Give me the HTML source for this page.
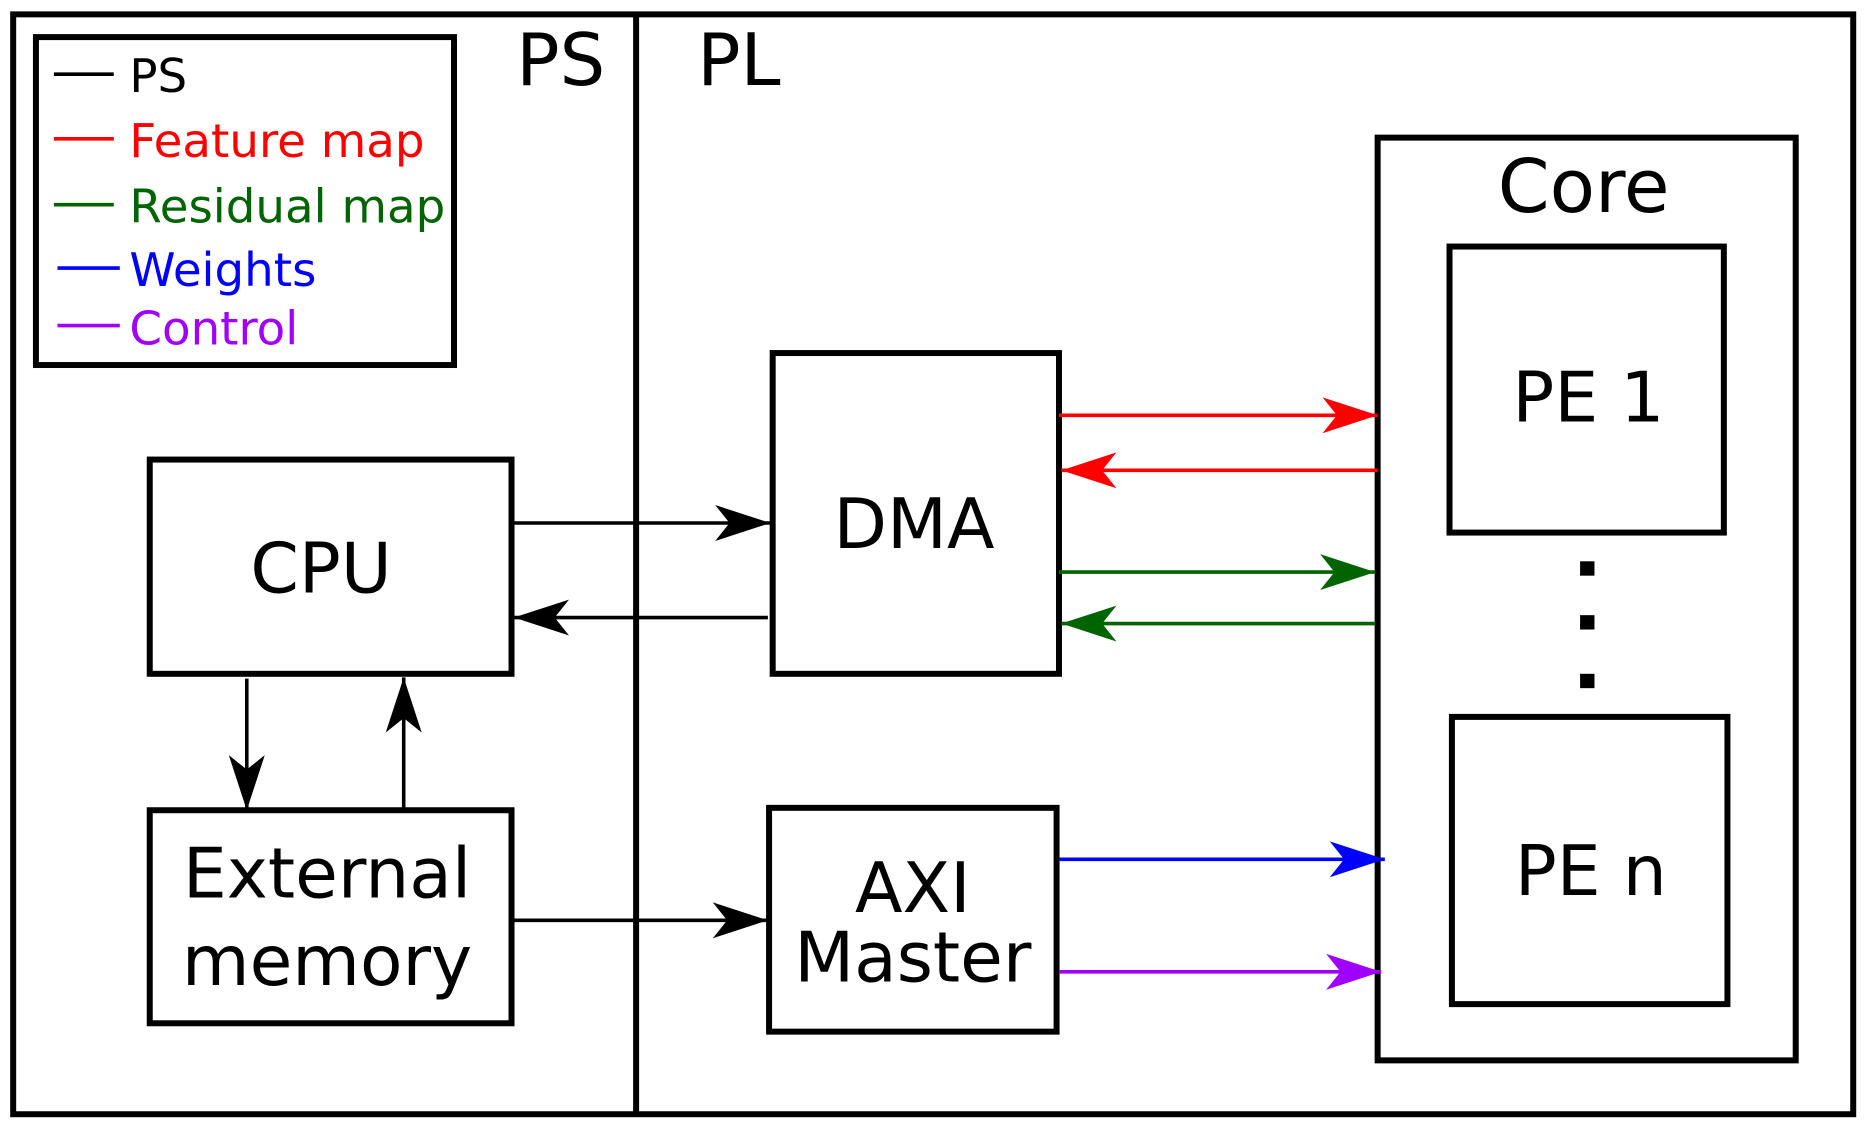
<!DOCTYPE html>
<html><head><meta charset="utf-8"><style>
html,body{margin:0;padding:0;background:#fff;}
svg{display:block;}
text{font-family:"DejaVu Sans","Liberation Sans",sans-serif;}
</style></head><body>
<svg width="1864" height="1125" viewBox="0 0 1556 940" preserveAspectRatio="none" xmlns="http://www.w3.org/2000/svg">
<defs>
<marker id="mk" markerUnits="userSpaceOnUse" markerWidth="60" markerHeight="40" refX="0" refY="0" viewBox="-50 -20 60 40" orient="auto"><path d="M0,0 L-46,-15 L-34,0 L-46,15 z" fill="#000"/></marker>
<marker id="mr" markerUnits="userSpaceOnUse" markerWidth="60" markerHeight="40" refX="0" refY="0" viewBox="-50 -20 60 40" orient="auto"><path d="M0,0 L-46,-15 L-34,0 L-46,15 z" fill="#f00"/></marker>
<marker id="mg" markerUnits="userSpaceOnUse" markerWidth="60" markerHeight="40" refX="0" refY="0" viewBox="-50 -20 60 40" orient="auto"><path d="M0,0 L-46,-15 L-34,0 L-46,15 z" fill="#006400"/></marker>
<marker id="mb" markerUnits="userSpaceOnUse" markerWidth="60" markerHeight="40" refX="0" refY="0" viewBox="-50 -20 60 40" orient="auto"><path d="M0,0 L-46,-15 L-34,0 L-46,15 z" fill="#00f"/></marker>
<marker id="mp" markerUnits="userSpaceOnUse" markerWidth="60" markerHeight="40" refX="0" refY="0" viewBox="-50 -20 60 40" orient="auto"><path d="M0,0 L-46,-15 L-34,0 L-46,15 z" fill="#a000ff"/></marker>
</defs>
<g fill="none" stroke="#000" stroke-width="5">
<rect x="11" y="12" width="1536" height="919"/>
<line x1="531" y1="12" x2="531" y2="931"/>
<rect x="30" y="31" width="349" height="274"/>
<rect x="125" y="384" width="302" height="179"/>
<rect x="125" y="677" width="302" height="178"/>
<rect x="645" y="295" width="239" height="268"/>
<rect x="642" y="675" width="240" height="187"/>
<rect x="1150" y="115" width="349" height="771"/>
<rect x="1210" y="206" width="229" height="239"/>
<rect x="1212" y="599" width="230" height="240"/>
</g>
<g stroke-width="3">
<line x1="45" y1="62" x2="95" y2="62" stroke="#000"/>
<line x1="45" y1="116" x2="95" y2="116" stroke="#f00"/>
<line x1="45" y1="171" x2="95" y2="171" stroke="#006400"/>
<line x1="48" y1="224" x2="100" y2="224" stroke="#00f"/>
<line x1="48" y1="272" x2="100" y2="272" stroke="#a000ff"/>
<line x1="427" y1="437" x2="643" y2="437" stroke="#000" marker-end="url(#mk)"/>
<line x1="641" y1="516" x2="429" y2="516" stroke="#000" marker-end="url(#mk)"/>
<line x1="206" y1="567" x2="206" y2="677" stroke="#000" marker-end="url(#mk)"/>
<line x1="337" y1="675" x2="337" y2="566" stroke="#000" marker-end="url(#mk)"/>
<line x1="427" y1="769" x2="641" y2="769" stroke="#000" marker-end="url(#mk)"/>
<line x1="884" y1="347" x2="1150" y2="347" stroke="#f00" marker-end="url(#mr)"/>
<line x1="1150" y1="393" x2="886" y2="393" stroke="#f00" marker-end="url(#mr)"/>
<line x1="884" y1="478" x2="1148" y2="478" stroke="#006400" marker-end="url(#mg)"/>
<line x1="1148" y1="521" x2="886" y2="521" stroke="#006400" marker-end="url(#mg)"/>
<line x1="884" y1="718" x2="1156" y2="718" stroke="#00f" marker-end="url(#mb)"/>
<line x1="884" y1="812" x2="1153" y2="812" stroke="#a000ff" marker-end="url(#mp)"/>
</g>
<rect x="1319" y="469" width="12" height="12" fill="#000"/>
<rect x="1319" y="514" width="12" height="12" fill="#000"/>
<rect x="1319" y="563" width="12" height="12" fill="#000"/>
<g font-size="39">
<text x="108" y="77" fill="#000">PS</text>
<text x="108" y="131" fill="#f00">Feature map</text>
<text x="108" y="186" fill="#006400">Residual map</text>
<text x="108" y="239" fill="#00f">Weights</text>
<text x="108" y="288" fill="#a000ff">Control</text>
</g>
<text x="431" y="71" font-size="60">PS</text>
<text x="582" y="71" font-size="60">PL</text>
<text x="1322" y="177" font-size="62" text-anchor="middle">Core</text>
<text x="268" y="495" font-size="58" text-anchor="middle">CPU</text>
<text x="763" y="458" font-size="58" text-anchor="middle">DMA</text>
<text x="1326" y="352" font-size="58" text-anchor="middle">PE 1</text>
<text x="1328" y="748" font-size="58" text-anchor="middle">PE n</text>
<text x="273" y="750" font-size="58" text-anchor="middle">External</text>
<text x="273" y="823" font-size="58" text-anchor="middle">memory</text>
<text x="762" y="762" font-size="58" text-anchor="middle">AXI</text>
<text x="762" y="820" font-size="58" text-anchor="middle">Master</text>
</svg>
</body></html>
